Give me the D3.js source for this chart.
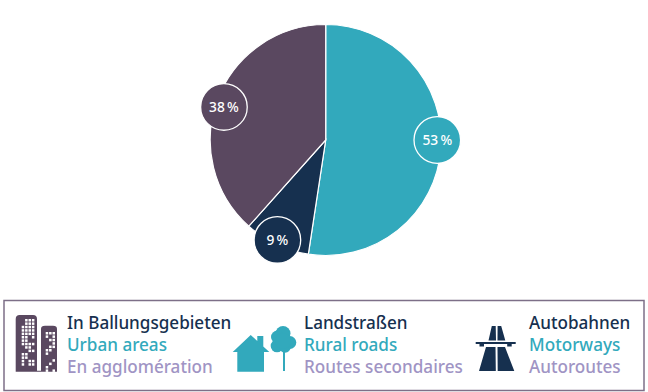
<!DOCTYPE html>
<html>
<head>
<meta charset="utf-8">
<script src="https://cdn.jsdelivr.net/npm/d3@7"></script>
<style>
html, body { margin: 0; padding: 0; background: #fff; }
svg { display: block; }
text { font-family: "Noto Sans", sans-serif; }
</style>
</head>
<body>
<div id="chart"></div>
<script>
// shares as measured from the slice angles, labels as printed
var categories = ['Motorways', 'Rural roads', 'Urban areas'];
var shares = [52.4, 9.2, 38.4];
var labels = ['53\u2009%', '9\u2009%', '38\u2009%'];
var colors = ['#32a9bc', '#16304f', '#5a4860'];

var legendDe = ['In Ballungsgebieten', 'Landstraßen', 'Autobahnen'];
var legendEn = ['Urban areas', 'Rural roads', 'Motorways'];
var legendFr = ['En agglomération', 'Routes secondaires', 'Autoroutes'];

var width = 648,
    height = 392,
    cx = 325.7,
    cy = 140,
    radius = 115.5;

var svg = d3.select("#chart").append("svg")
    .attr("width", width)
    .attr("height", height);

var pie = d3.pie().sort(null).value(function (d) { return d; });
var arc = d3.arc().innerRadius(0).outerRadius(radius);
var arcs = pie(shares);

var chart = svg.append("g")
    .attr("transform", "translate(" + cx + "," + cy + ")");

chart.selectAll("path")
    .data(arcs)
    .enter().append("path")
    .attr("d", arc)
    .style("fill", function (d, i) { return colors[i]; })
    .style("stroke", "#fff")
    .style("stroke-width", "1.2px");

// badges don't sit exactly on the slice middle
var badgeAngle = [90, 205.8, 288];
var badgeRadius = [111.6, 111, 107];

var badges = chart.selectAll("g.badge")
    .data(labels)
    .enter().append("g")
    .attr("class", "badge")
    .attr("transform", function (d, i) {
        var a = badgeAngle[i] * Math.PI / 180;
        return "translate(" + (badgeRadius[i] * Math.sin(a)) + "," + (-badgeRadius[i] * Math.cos(a)) + ")";
    });

badges.append("circle")
    .attr("r", 23.3)
    .style("fill", function (d, i) { return colors[i]; })
    .style("stroke", "#fff")
    .style("stroke-width", "1.3px");

badges.append("text")
    .attr("text-anchor", "middle")
    .attr("y", 5)
    .style("font-size", "13.8px")
    .style("font-weight", 500)
    .style("fill", "#fff")
    .text(function (d) { return d; });

// legend box
svg.append("rect")
    .attr("x", 4)
    .attr("y", 300.5)
    .attr("width", 640)
    .attr("height", 90)
    .style("fill", "none")
    .style("stroke", "#7d6f88")
    .style("stroke-width", "1.5px");

var legendX = [67, 304, 529];

var legend = svg.selectAll("g.legend")
    .data(legendDe)
    .enter().append("g")
    .attr("class", "legend")
    .attr("transform", function (d, i) { return "translate(" + legendX[i] + ",0)"; });

function legendLine(values, y, color) {
    legend.append("text")
        .attr("y", y)
        .style("font-size", "17.1px")
        .style("font-weight", 500)
        .style("fill", color)
        .text(function (d, i) { return values[i]; });
}

legendLine(legendDe, 329, "#16304f");
legendLine(legendEn, 351, "#32a9bc");
legendLine(legendFr, 372.5, "#a094c4");

// icons
var city = svg.append("g").style("fill", colors[2]);
city.append("path")
    .attr("d", "M15.7 371.7V319q0-4 4-4h13.3q4 0 4 4v51.7h4V329q0-3.3 4-3.3h8q4 0 4 3.3v42.7z");

function cityWindows(pattern, x0, y0) {
    pattern.forEach(function (row, r) {
        row.split("").forEach(function (c, k) {
            if (c === "1") {
                city.append("rect")
                    .attr("x", x0 + k * 3.4)
                    .attr("y", y0 + r * 3.4)
                    .attr("width", 2.5)
                    .attr("height", 2.5)
                    .style("fill", "#fff");
            }
        });
    });
}

cityWindows(["0111", "0111", "1111", "1111", "1111", "1101", "1100", "1111", "0110", "0011", "1100", "1100", "1011", "1011"], 21.7, 319);
cityWindows(["111", "101", "011", "001", "011", "110", "100", "000", "001", "010", "100", "101"], 45.7, 332);

var rural = svg.append("g").style("fill", colors[0]);
rural.append("path")
    .attr("d", "M232.7 352L250.7 335L257.3 341V336H263.3V346.5L269.3 352H264V371.7H237.3V352z");
[[283, 333.5, 7.5], [289.8, 342.5, 6.5], [277.5, 337, 6.5], [277, 346, 6.3], [285, 347, 5.8], [283, 341, 8]].forEach(function (c) {
    rural.append("circle").attr("cx", c[0]).attr("cy", c[1]).attr("r", c[2]);
});
rural.append("rect").attr("x", 283).attr("y", 350).attr("width", 2).attr("height", 21);

var road = svg.append("g").style("fill", colors[1]);
road.append("path")
    .attr("d", "M491.8 326h3.9L496 340.5H488.5zM497.6 326h3.6L505.3 340.5h-7.8zM475.7 342h40v2h-4v2.5h-4.5V344H484v2.5h-4.5V344h-3.8zM486 347h9.5L495.8 371H479zM497.5 347H505L514.3 371H497.7z");
</script>
</body>
</html>
